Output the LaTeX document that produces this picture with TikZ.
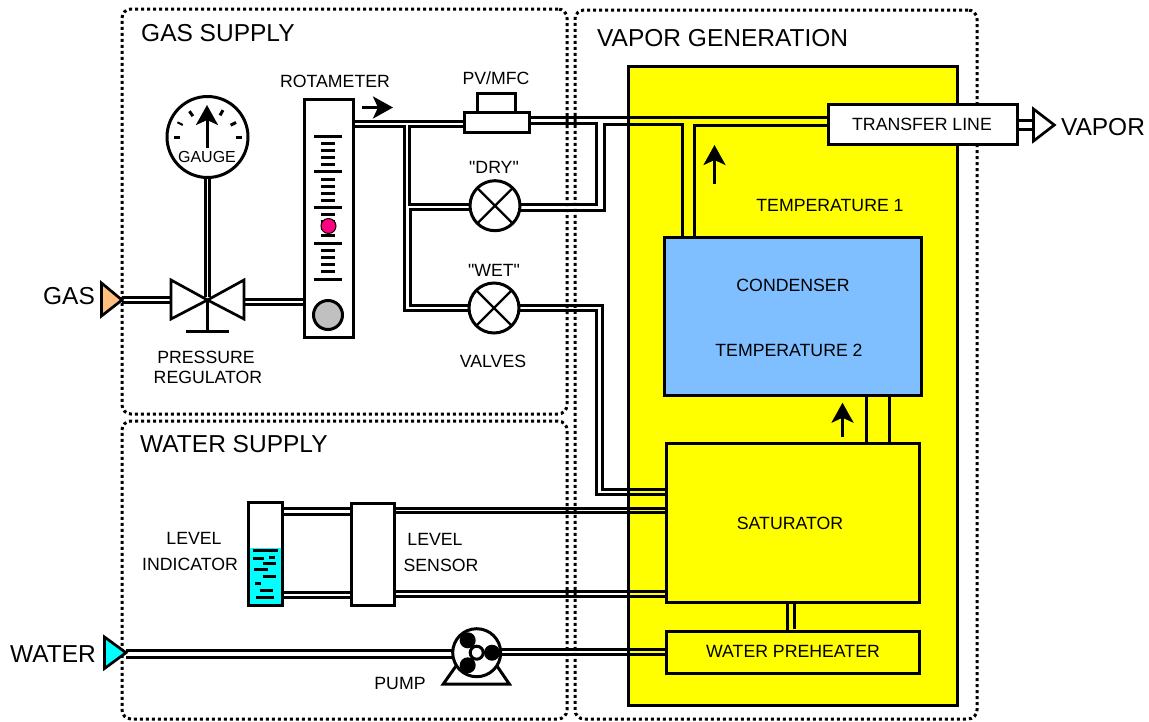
\documentclass[tikz,border=0pt]{standalone}
\usepackage{fontspec}
\setmainfont{Liberation Sans}
\newfontfamily\quotefont{Liberation Sans}
\usepackage{xcolor}
\usetikzlibrary{arrows.meta,calc}
\definecolor{heatyellow}{RGB}{255,255,0}
\definecolor{watercyan}{RGB}{0,255,255}
\definecolor{condenserblue}{RGB}{128,191,255}
\definecolor{gasorange}{RGB}{255,191,128}
\definecolor{floatpink}{RGB}{255,0,128}
\definecolor{floatgray}{RGB}{192,192,192}
\tikzset{
    region/.style={draw,line width=3pt,dash pattern=on 3pt off 3pt,rounded corners=9pt,inner sep=0pt,outer sep=0pt},
    unitbox/.style={draw,line width=2.7pt,fill=white,inner sep=0pt,outer sep=0pt},
    roundbox/.style={draw,circle,line width=3pt,fill=white,inner sep=0pt,outer sep=0pt},
    pipe/.style={line width=3pt,line join=miter},
    flowarrow/.style={line width=3pt,-{Stealth[length=20pt,width=22pt,inset=5pt]}},
    biglabel/.style={font=\fontsize{24.5}{27}\selectfont,inner sep=0pt},
    smalllabel/.style={font=\fontsize{17.7}{20}\selectfont,inner sep=0pt}
}
\begin{document}
\begin{tikzpicture}[x=1pt,y=-1pt]
        \useasboundingbox (0,0) rectangle (1149,721);

        % Dotted regions
        \node[region,minimum width=445pt,minimum height=405pt] (gasregion) at (344.5,211.5) {};
        \node[region,minimum width=445pt,minimum height=298pt] (waterregion) at (344.5,570) {};
        \node[region,minimum width=402pt,minimum height=709pt] (vaporregion) at (776,364.5) {};

        % Heated enclosure and its units
        \node[unitbox,line width=2.2pt,fill=heatyellow,minimum width=329pt,minimum height=639pt] (enclosure) at (793,386) {};
        \node[unitbox,minimum width=189pt,minimum height=40pt] (transferline) at (923,124.5) {};
        \node[unitbox,fill=condenserblue,minimum width=257pt,minimum height=158pt] (condenser) at (793,316.5) {};
        \node[unitbox,fill=heatyellow,minimum width=253pt,minimum height=159pt] (saturator) at (793,523) {};
        \node[unitbox,fill=heatyellow,minimum width=253pt,minimum height=42pt] (preheater) at (793,652.5) {};

        % Gauge, rotameter, mass flow controller
        \node[roundbox,minimum size=81pt] (gauge) at (207.5,137) {};
        \node[unitbox,minimum width=49pt,minimum height=238pt] (rotameter) at (329,218.5) {};
        \node[unitbox,minimum width=38pt,minimum height=19pt] (pvtop) at (496.5,103) {};
        \node[unitbox,minimum width=65pt,minimum height=20pt] (pvbase) at (497,122.5) {};

        % Valves
        \node[roundbox,minimum size=50pt] (dryvalve) at (495,205.7) {};
        \node[roundbox,minimum size=50pt] (wetvalve) at (494,308) {};
        \draw[line width=2.2pt] (dryvalve.45) -- (dryvalve.225) (dryvalve.135) -- (dryvalve.315);
        \draw[line width=2.2pt] (wetvalve.45) -- (wetvalve.225) (wetvalve.135) -- (wetvalve.315);

        % Regulator
        \coordinate (regcentre) at (207.5,300);
        \coordinate (regleft) at (171,300);
        \coordinate (regright) at (244,300);
        \coordinate (regfoot) at (207.5,331);
        \draw[unitbox] (regleft |- 0,280) -- (regcentre) -- (regleft |- 0,319) -- cycle;
        \draw[unitbox] (regright |- 0,280) -- (regcentre) -- (regright |- 0,319) -- cycle;
        \draw[line width=3pt] (regcentre) -- (regfoot);
        \draw[line width=3pt] ($(regfoot)+(-21.5,0)$) -- ($(regfoot)+(21.5,0)$);

        % Level indicator and sensor
        \node[unitbox,minimum width=34pt,minimum height=103pt] (indicator) at (265.5,554) {};
        \fill[watercyan] (249.5,547.7) rectangle (281.5,604);
        \draw[line width=2.7pt] (indicator.north west) rectangle (indicator.south east);
        \foreach \xa/\xb/\y in {253.3/278/550.5,253.3/264/558.5,269/275/557.5,263.3/276/563.5,254.3/267.7/569.5,263.3/276/576.5,255/260.7/583.5,260/272.7/590.5,256/274/597.5} {
            \draw[line width=3pt] (\xa,\y) -- (\xb,\y);
        }
        \node[unitbox,minimum width=43pt,minimum height=102pt] (levelsensor) at (373,554.5) {};

        % Pump
        \coordinate (pumpfootl) at (443.3,684);
        \coordinate (pumpfootr) at (509.3,684);
        \draw[line width=3pt,line join=miter] (456,666) -- (pumpfootl) -- (pumpfootr) -- (497,666);
        \node[roundbox,minimum size=48pt] (pump) at (476.7,652.7) {};
        \foreach \x/\y in {467.7/640.3,492/652.7,467.7/665.3} {
            \fill (\x,\y) circle (8pt);
            \draw[line width=2.6pt] (pump.center) -- (\x,\y);
        }
        \node[draw,circle,line width=3pt,fill=white,minimum size=13pt,inner sep=0pt] (pumphub) at (pump.center) {};

        % Inlet and outlet triangles
        \coordinate (gastip) at (122,300);
        \coordinate (watertip) at (126,652.7);
        \coordinate (vaporbase) at (1033.5,125);
        \draw[unitbox,fill=gasorange] (101.5,283) -- (gastip) -- (101.5,316) -- cycle;
        \draw[unitbox,fill=watercyan] (104.5,637) -- (watertip) -- (104.5,668.5) -- cycle;
        \draw[unitbox] (vaporbase |- 0,109) -- (1054.3,125) -- (vaporbase |- 0,141) -- cycle;

        % Gas pipes
        \draw[pipe] (gastip |- 0,297.5) -- (regleft |- 0,297.5);
        \draw[pipe] (gastip |- 0,302.5) -- (regleft |- 0,302.5);
        \draw[pipe] (regright |- 0,299.5) -- (rotameter.west |- 0,299.5);
        \draw[pipe] (regright |- 0,304.5) -- (rotameter.west |- 0,304.5);
        \draw[pipe] ($(gauge.south)+(-2,0)$) -- ($(regcentre)+(-2,-3)$);
        \draw[pipe] ($(gauge.south)+(2,0)$) -- ($(regcentre)+(2,-3)$);
        \draw[pipe] (rotameter.east |- 0,121.5) -- (pvbase.west |- 0,121.5);
        \draw[pipe] (rotameter.east |- 0,126.5) -- (404.5,126.5) -- (404.5,310.5) -- (wetvalve.west |- 0,310.5);
        \draw[pipe] (pvbase.west |- 0,126.5) -- (409.5,126.5) -- (409.5,204.5) -- (dryvalve.west |- 0,204.5);
        \draw[pipe] (dryvalve.west |- 0,209.5) -- (410.5,209.5) -- (410.5,305.5) -- (wetvalve.west |- 0,305.5);
        \draw[pipe] (pvbase.east |- 0,117.5) -- (transferline.west |- 0,117.5);
        \draw[pipe] (pvbase.east |- 0,123.5) -- (596.5,123.5) -- (596.5,204.5) -- (dryvalve.east |- 0,204.5);
        \draw[pipe] (dryvalve.east |- 0,210.5) -- (604.5,210.5) -- (604.5,124.5) -- (682.5,124.5) -- (682.5,237.5);
        \draw[pipe] (694.5,237.5) -- (694.5,125.5) -- (transferline.west |- 0,125.5);
        \draw[pipe] (wetvalve.east |- 0,305.5) -- (602.5,305.5) -- (602.5,489.5) -- (saturator.west |- 0,489.5);
        \draw[pipe] (wetvalve.east |- 0,310.5) -- (596.5,310.5) -- (596.5,494.5) -- (saturator.west |- 0,494.5);
        \draw[pipe] (transferline.east |- 0,120.5) -- (vaporbase |- 0,120.5);
        \draw[pipe] (transferline.east |- 0,129.5) -- (vaporbase |- 0,129.5);

        % Unit to unit pipes
        \draw[pipe] (866.5,395) -- (866.5,443);
        \draw[pipe] (889.5,395) -- (889.5,443);
        \draw[pipe] (787.5,602) -- (787.5,631);
        \draw[pipe] (794.5,602) -- (794.5,629);

        % Water pipes
        \draw[pipe] (indicator.east |- 0,508.5) -- (levelsensor.west |- 0,508.5);
        \draw[pipe] (indicator.east |- 0,514.5) -- (levelsensor.west |- 0,514.5);
        \draw[pipe] (indicator.east |- 0,592.5) -- (levelsensor.west |- 0,592.5);
        \draw[pipe] (indicator.east |- 0,597.5) -- (levelsensor.west |- 0,597.5);
        \draw[pipe] (levelsensor.east |- 0,508.5) -- (saturator.west |- 0,508.5);
        \draw[pipe] (levelsensor.east |- 0,512.5) -- (saturator.west |- 0,512.5);
        \draw[pipe] (levelsensor.east |- 0,591.5) -- (saturator.west |- 0,591.5);
        \draw[pipe] (levelsensor.east |- 0,596.5) -- (saturator.west |- 0,596.5);
        \draw[pipe] (watertip |- 0,650.5) -- (pump.west |- 0,650.5);
        \draw[pipe] (watertip |- 0,657.5) -- (pump.west |- 0,657.5);
        \draw[pipe] (pump.east |- 0,649.5) -- (preheater.west |- 0,649.5);
        \draw[pipe] (pump.east |- 0,654.5) -- (preheater.west |- 0,654.5);

        % Rotameter scale and float
        \foreach \y in {136.5,171.5,207.5,243.5,279.5} {
            \draw[line width=3pt] (314,\y) -- (342,\y);
        }
        \foreach \y in {136.5,172,207.5,243.5} {
            \foreach \k in {1,2,3,4} {
                \draw[line width=3pt] (321,\y+\k*7) -- (335,\y+\k*7);
            }
        }
        \node[draw,circle,line width=1pt,fill=floatpink,minimum size=15pt,inner sep=0pt] (rotafloat) at (328.5,226) {};
        \node[draw,circle,line width=3pt,fill=floatgray,minimum size=29pt,inner sep=0pt] (rotabase) at (328,315) {};

        % Gauge dial
        \foreach \a/\r/\w in {180/31/3,154/30.5/2,125/28.5/3,60/28/3,27/29/3,0/31/3} {
            \draw[line width=\w pt] ($(gauge.center)+(\a:\r pt-3pt)$) -- ($(gauge.center)+(\a:\r pt+3pt)$);
        }
        \coordinate (needlefoot) at (207,148);
        \coordinate (needletip) at (207,105);
        \draw[flowarrow] (needlefoot) -- (needletip);

        % Flow arrows
        \coordinate (flowa) at (362,107.5);
        \coordinate (flowb) at (393,107.5);
        \coordinate (flowc) at (714.5,184);
        \coordinate (flowd) at (714.5,145);
        \coordinate (flowe) at (842.5,436.7);
        \coordinate (flowf) at (842.5,402.7);
        \draw[flowarrow] (flowa) -- (flowb);
        \draw[flowarrow] (flowc) -- (flowd);
        \draw[flowarrow] (flowe) -- (flowf);

        % Labels
        \node[biglabel,anchor=west] (gastitle) at (141,33.5) {GAS SUPPLY};
        \node[biglabel,anchor=west] (watertitle) at (140,444.5) {WATER SUPPLY};
        \node[biglabel,anchor=west] (vaportitle) at (597,38.5) {VAPOR GENERATION};
        \node[biglabel] (gaslabel) at (69,296) {GAS};
        \node[biglabel] (waterlabel) at (53,654) {WATER};
        \node[biglabel] (vaporlabel) at (1103,127) {VAPOR};
        \node[smalllabel,font=\fontsize{16}{18}\selectfont] (gaugelabel) at (207,156.5) {GAUGE};
        \node[smalllabel] (rotalabel) at (335,81.5) {ROTAMETER};
        \node[smalllabel] (pvlabel) at (496,78.5) {PV/MFC};
        \node[smalllabel] (drylabel) at (494,167.5) {\quotefont "DRY"};
        \node[smalllabel] (wetlabel) at (494,270.5) {\quotefont "WET"};
        \node[smalllabel] (valvelabel) at (493,361.5) {VALVES};
        \node[smalllabel] (pressurelabel) at (206,357.5) {PRESSURE};
        \node[smalllabel] (regulatorlabel) at (208,377.5) {REGULATOR};
        \node[smalllabel] (transferlabel) at (922,124.7) {TRANSFER LINE};
        \node[smalllabel] (temponelabel) at (830,205.7) {TEMPERATURE 1};
        \node[smalllabel] (condenserlabel) at (793,285.5) {CONDENSER};
        \node[smalllabel] (temptwolabel) at (789,350.5) {TEMPERATURE 2};
        \node[smalllabel] (saturatorlabel) at (790,523.5) {SATURATOR};
        \node[smalllabel] (preheaterlabel) at (793,651.5) {WATER PREHEATER};
        \node[smalllabel] (levellabel) at (194,538.5) {LEVEL};
        \node[smalllabel] (indicatorlabel) at (190,564.5) {INDICATOR};
        \node[smalllabel] (levelbislabel) at (435,539.5) {LEVEL};
        \node[smalllabel] (sensorlabel) at (441,565.5) {SENSOR};
        \node[smalllabel] (pumplabel) at (400,683.5) {PUMP};
\end{tikzpicture}
\end{document}
